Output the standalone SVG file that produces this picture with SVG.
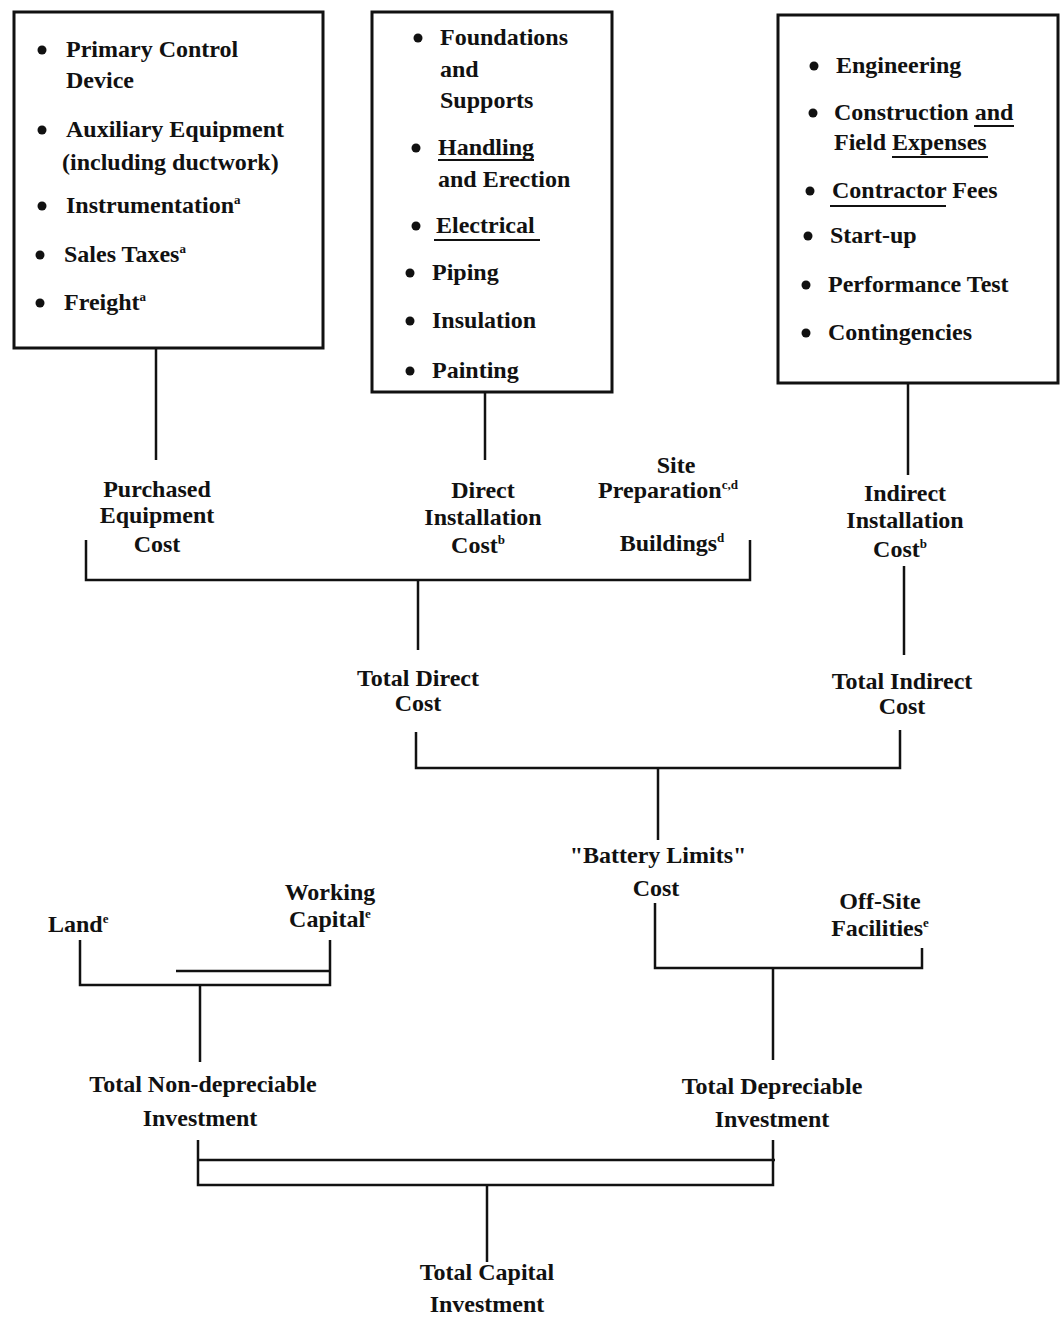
<svg xmlns="http://www.w3.org/2000/svg" width="1064" height="1319" viewBox="0 0 1064 1319">
<style>
text{font-family:"Liberation Serif","Times New Roman",serif;font-weight:bold;font-size:24px;fill:#111}
.c{text-anchor:middle}
.sup{font-size:13px}
.box{fill:#fff;stroke:#111;stroke-width:3}
.ln{fill:none;stroke:#111;stroke-width:2.5}
.ul{stroke:#111;stroke-width:2}
</style>
<rect width="1064" height="1319" fill="#fff"/>
<defs><circle id="b" r="4.5" fill="#111"/></defs>

<g id="box-purchased">
<rect class="box" x="14" y="12" width="309" height="336"/>
<use href="#b" x="42" y="50"/><text x="66" y="57">Primary Control</text><text x="66" y="88">Device</text>
<use href="#b" x="42" y="130"/><text x="66" y="137">Auxiliary Equipment</text><text x="62" y="170">(including ductwork)</text>
<use href="#b" x="42" y="206"/><text x="66" y="213">Instrumentation<tspan class="sup" dy="-9">a</tspan></text>
<use href="#b" x="40" y="255"/><text x="64" y="262">Sales Taxes<tspan class="sup" dy="-9">a</tspan></text>
<use href="#b" x="40" y="303"/><text x="64" y="310">Freight<tspan class="sup" dy="-9">a</tspan></text>
</g>

<g id="box-direct">
<rect class="box" x="372" y="12" width="240" height="380"/>
<use href="#b" x="418" y="38"/><text x="440" y="45">Foundations</text><text x="440" y="77">and</text><text x="440" y="108">Supports</text>
<use href="#b" x="416" y="148"/><text x="438" y="155">Handling</text><line class="ul" x1="438" y1="160" x2="534" y2="160"/><text x="438" y="187">and Erection</text>
<use href="#b" x="416" y="226"/><text x="436" y="233">Electrical</text><line class="ul" x1="434" y1="240" x2="540" y2="240"/>
<use href="#b" x="410" y="273"/><text x="432" y="280">Piping</text>
<use href="#b" x="410" y="321"/><text x="432" y="328">Insulation</text>
<use href="#b" x="410" y="371"/><text x="432" y="378">Painting</text>
</g>

<g id="box-indirect">
<rect class="box" x="778" y="15" width="280" height="368"/>
<use href="#b" x="814" y="66"/><text x="836" y="73">Engineering</text>
<use href="#b" x="813" y="113"/><text x="834" y="120">Construction and</text><line class="ul" x1="974" y1="126" x2="1014" y2="126"/>
<text x="834" y="150">Field Expenses</text><line class="ul" x1="892" y1="157" x2="988" y2="157"/>
<use href="#b" x="810" y="191"/><text x="832" y="198">Contractor Fees</text><line class="ul" x1="830" y1="206" x2="946" y2="206"/>
<use href="#b" x="808" y="236"/><text x="830" y="243">Start-up</text>
<use href="#b" x="806" y="285"/><text x="828" y="292">Performance Test</text>
<use href="#b" x="806" y="333"/><text x="828" y="340">Contingencies</text>
</g>

<g id="purchased-cost"><text class="c" x="157" y="497">Purchased</text><text class="c" x="157" y="523">Equipment</text><text class="c" x="157" y="552">Cost</text></g>
<g id="direct-cost"><text class="c" x="483" y="498">Direct</text><text class="c" x="483" y="525">Installation</text><text class="c" x="478" y="553">Cost<tspan class="sup" dy="-9">b</tspan></text></g>
<g id="site-prep"><text class="c" x="676" y="473">Site</text><text class="c" x="668" y="498">Preparation<tspan class="sup" dy="-9">c,d</tspan></text></g>
<g id="buildings"><text class="c" x="672" y="551">Buildings<tspan class="sup" dy="-9">d</tspan></text></g>
<g id="indirect-cost"><text class="c" x="905" y="501">Indirect</text><text class="c" x="905" y="528">Installation</text><text class="c" x="900" y="557">Cost<tspan class="sup" dy="-9">b</tspan></text></g>
<g id="total-direct"><text class="c" x="418" y="686">Total Direct</text><text class="c" x="418" y="711">Cost</text></g>
<g id="total-indirect"><text class="c" x="902" y="689">Total Indirect</text><text class="c" x="902" y="714">Cost</text></g>
<g id="battery-limits"><text class="c" x="658" y="863">"Battery Limits"</text><text class="c" x="656" y="896">Cost</text></g>
<g id="off-site"><text class="c" x="880" y="909">Off-Site</text><text class="c" x="880" y="936">Facilities<tspan class="sup" dy="-9">e</tspan></text></g>
<g id="land"><text x="48" y="932">Land<tspan class="sup" dy="-9">e</tspan></text></g>
<g id="working-capital"><text class="c" x="330" y="900">Working</text><text class="c" x="330" y="927">Capital<tspan class="sup" dy="-9">e</tspan></text></g>
<g id="total-nondep"><text class="c" x="203" y="1092">Total Non-depreciable</text><text class="c" x="200" y="1126">Investment</text></g>
<g id="total-dep"><text class="c" x="772" y="1094">Total Depreciable</text><text class="c" x="772" y="1127">Investment</text></g>
<g id="total-capital"><text class="c" x="487" y="1280">Total Capital</text><text class="c" x="487" y="1312">Investment</text></g>

<g id="connectors">
<path class="ln" d="M156 348V460"/>
<path class="ln" d="M485 392V460"/>
<path class="ln" d="M908 383V475"/>
<path class="ln" d="M86 540V580H750V540"/>
<path class="ln" d="M418 580V650"/>
<path class="ln" d="M904 566V655"/>
<path class="ln" d="M416 732V768H900V730"/>
<path class="ln" d="M658 768V840"/>
<path class="ln" d="M655 903V968H922V948"/>
<path class="ln" d="M773 968V1060"/>
<path class="ln" d="M80 940V985H330V940"/>
<path class="ln" d="M176 971H330" stroke-width="1.5"/>
<path class="ln" d="M200 985V1062"/>
<path class="ln" d="M198 1140V1185H773V1140"/>
<path class="ln" d="M198 1160H775" stroke-width="1.5"/>
<path class="ln" d="M487 1185V1262"/>
</g>
</svg>
